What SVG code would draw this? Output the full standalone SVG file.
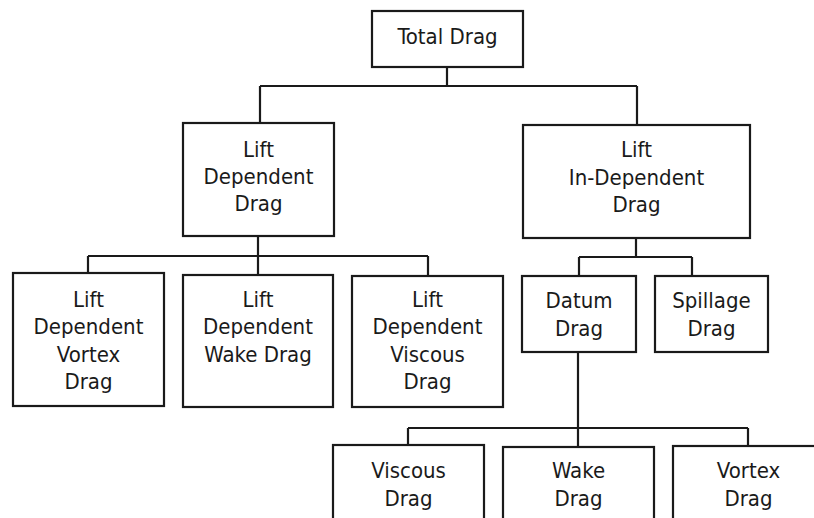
<svg xmlns="http://www.w3.org/2000/svg" width="814" height="518" viewBox="0 0 814 518">
<style>
.box{fill:#fff;stroke:#1a1a1a;stroke-width:2.2}
.ln{fill:none;stroke:#1a1a1a;stroke-width:2.2}
text{font-family:"DejaVu Sans Condensed","DejaVu Sans","Liberation Sans",sans-serif;font-stretch:condensed;font-size:22px;fill:#1a1a1a;text-anchor:middle}
</style>
<rect width="814" height="518" fill="#fff"/>
<g id="connectors">
<path class="ln" d="M447,67 V86 M260,86 H637 M260,86 V123 M637,86 V125"/>
<path class="ln" d="M258,236 V275 M88,256 H428 M88,256 V273 M428,256 V276"/>
<path class="ln" d="M636,238 V257 M579,257 H692 M579,257 V276 M692,257 V276"/>
<path class="ln" d="M578,352 V447 M408,428 H748 M408,428 V445 M748,428 V446"/>
</g>
<g id="total"><rect class="box" x="372" y="11" width="151" height="56"/><text x="447.5" y="44">Total Drag</text></g>
<g id="liftdep"><rect class="box" x="183" y="123" width="151" height="113"/><text x="258.5" y="157">Lift</text><text x="258.5" y="184">Dependent</text><text x="258.5" y="211">Drag</text></g>
<g id="liftindep"><rect class="box" x="523" y="125" width="227" height="113"/><text x="636.5" y="157">Lift</text><text x="636.5" y="185">In-Dependent</text><text x="636.5" y="212">Drag</text></g>
<g id="ldvortex"><rect class="box" x="13" y="273" width="151" height="133"/><text x="88.5" y="307">Lift</text><text x="88.5" y="334">Dependent</text><text x="88.5" y="362">Vortex</text><text x="88.5" y="389">Drag</text></g>
<g id="ldwake"><rect class="box" x="183" y="275" width="150" height="132"/><text x="258" y="307">Lift</text><text x="258" y="334">Dependent</text><text x="258" y="362">Wake Drag</text></g>
<g id="ldviscous"><rect class="box" x="352" y="276" width="151" height="131"/><text x="427.5" y="307">Lift</text><text x="427.5" y="334">Dependent</text><text x="427.5" y="362">Viscous</text><text x="427.5" y="389">Drag</text></g>
<g id="datum"><rect class="box" x="522" y="276" width="114" height="76"/><text x="579" y="308">Datum</text><text x="579" y="336">Drag</text></g>
<g id="spillage"><rect class="box" x="655" y="276" width="113" height="76"/><text x="711.5" y="308">Spillage</text><text x="711.5" y="336">Drag</text></g>
<g id="viscous"><rect class="box" x="333" y="445" width="151" height="90"/><text x="408.5" y="478">Viscous</text><text x="408.5" y="506">Drag</text></g>
<g id="wake"><rect class="box" x="503" y="447" width="151" height="90"/><text x="578.5" y="478">Wake</text><text x="578.5" y="506">Drag</text></g>
<g id="vortex"><rect class="box" x="673" y="446" width="151" height="90"/><text x="748.5" y="478">Vortex</text><text x="748.5" y="506">Drag</text></g>
</svg>
